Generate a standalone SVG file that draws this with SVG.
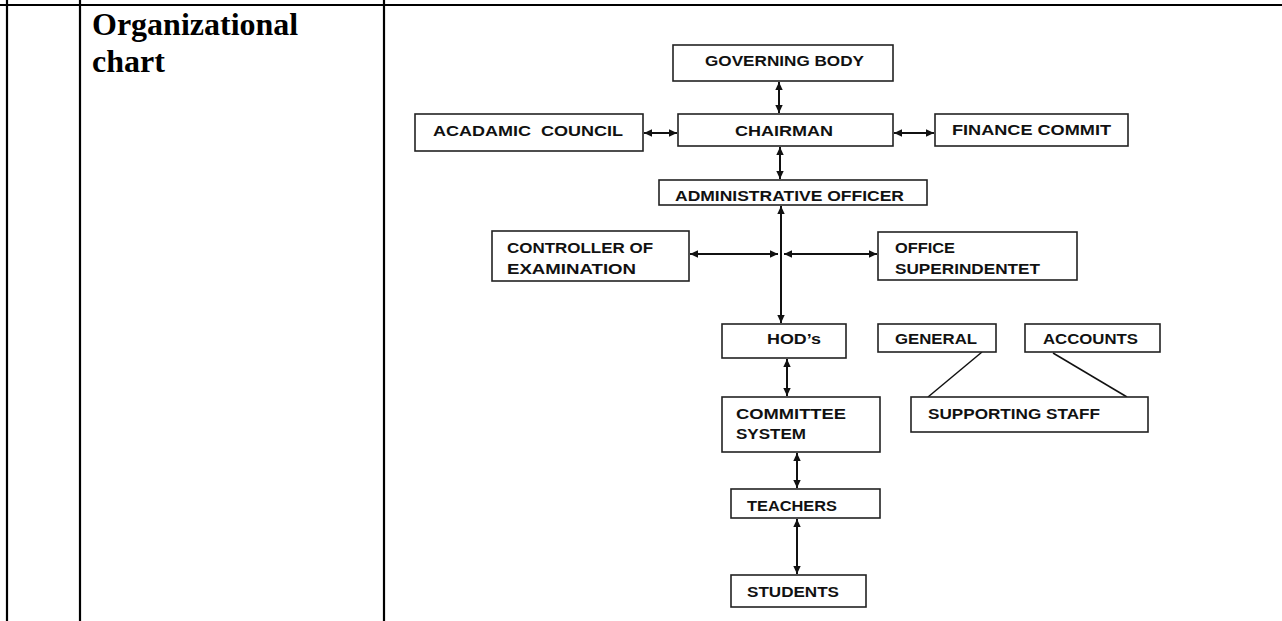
<svg xmlns="http://www.w3.org/2000/svg" width="1282" height="621" viewBox="0 0 1282 621">
<style>
.tbl{stroke:#000;stroke-width:2.2;fill:none}
.box{fill:#fff;stroke:#222;stroke-width:1.6}
.t{font-family:"Liberation Sans",Arial,sans-serif;font-weight:bold;font-size:14px;fill:#111}
.title{font-family:"Liberation Serif","Times New Roman",serif;font-weight:bold;font-size:32px;fill:#000}
.c{stroke:#111;stroke-width:2;fill:none;marker-start:url(#ah);marker-end:url(#ah)}
.l{stroke:#111;stroke-width:1.5;fill:none}
</style>
<defs>
<marker id="ah" markerUnits="userSpaceOnUse" markerWidth="9" markerHeight="9" refX="8" refY="4.5" orient="auto-start-reverse">
<path d="M0,0.8 L8,4.5 L0,8.2 Z" fill="#111"/>
</marker>
</defs>
<rect width="1282" height="621" fill="#fff"/>
<g id="table">
<line class="tbl" x1="0" y1="5" x2="1282" y2="5"/>
<line class="tbl" x1="7" y1="0" x2="7" y2="621"/>
<line class="tbl" x1="80" y1="0" x2="80" y2="621"/>
<line class="tbl" x1="384" y1="0" x2="384" y2="621"/>
<text class="title" x="92" y="35">Organizational</text>
<text class="title" x="92" y="72">chart</text>
</g>
<g id="connectors">
<line class="c" x1="779" y1="82" x2="779" y2="113"/>
<line class="c" x1="644" y1="133" x2="677" y2="133"/>
<line class="c" x1="894" y1="133" x2="934" y2="133"/>
<line class="c" x1="780" y1="147" x2="780" y2="179"/>
<line class="c" x1="781" y1="206" x2="781" y2="323"/>
<line class="c" x1="690" y1="254" x2="778" y2="254"/>
<line class="c" x1="784" y1="254" x2="877" y2="254"/>
<line class="c" x1="787" y1="359" x2="787" y2="396"/>
<line class="c" x1="797" y1="453" x2="797" y2="488"/>
<line class="c" x1="797" y1="519" x2="797" y2="574"/>
<line class="l" x1="982" y1="352" x2="928" y2="397"/>
<line class="l" x1="1053" y1="353" x2="1127" y2="397"/>
</g>
<g id="governing-body">
<rect class="box" x="673" y="45" width="220" height="36"/>
<text class="t" x="705" y="65.5" textLength="159" lengthAdjust="spacingAndGlyphs">GOVERNING BODY</text>
</g>
<g id="academic-council">
<rect class="box" x="415" y="114" width="228" height="37"/>
<text class="t" x="433" y="136" textLength="190" lengthAdjust="spacingAndGlyphs" xml:space="preserve">ACADAMIC  COUNCIL</text>
</g>
<g id="chairman">
<rect class="box" x="678" y="114" width="215" height="32"/>
<text class="t" x="735" y="136" textLength="98" lengthAdjust="spacingAndGlyphs">CHAIRMAN</text>
</g>
<g id="finance-commit">
<rect class="box" x="935" y="114" width="193" height="32"/>
<text class="t" x="952" y="135" textLength="159" lengthAdjust="spacingAndGlyphs">FINANCE COMMIT</text>
</g>
<g id="administrative-officer">
<rect class="box" x="659" y="180" width="268" height="25"/>
<text class="t" x="675" y="201" textLength="229" lengthAdjust="spacingAndGlyphs">ADMINISTRATIVE OFFICER</text>
</g>
<g id="controller">
<rect class="box" x="492" y="231" width="197" height="50"/>
<text class="t" x="507" y="253" textLength="146" lengthAdjust="spacingAndGlyphs">CONTROLLER OF</text>
<text class="t" x="507" y="274" textLength="129" lengthAdjust="spacingAndGlyphs">EXAMINATION</text>
</g>
<g id="office-superintendent">
<rect class="box" x="878" y="232" width="199" height="48"/>
<text class="t" x="895" y="253" textLength="60" lengthAdjust="spacingAndGlyphs">OFFICE</text>
<text class="t" x="895" y="274" textLength="145" lengthAdjust="spacingAndGlyphs">SUPERINDENTET</text>
</g>
<g id="hods">
<rect class="box" x="722" y="324" width="124" height="34"/>
<text class="t" x="767" y="344" textLength="54" lengthAdjust="spacingAndGlyphs">HOD’s</text>
</g>
<g id="general">
<rect class="box" x="878" y="324" width="118" height="28"/>
<text class="t" x="895" y="344" textLength="82" lengthAdjust="spacingAndGlyphs">GENERAL</text>
</g>
<g id="accounts">
<rect class="box" x="1025" y="324" width="135" height="28"/>
<text class="t" x="1043" y="344" textLength="95" lengthAdjust="spacingAndGlyphs">ACCOUNTS</text>
</g>
<g id="committee-system">
<rect class="box" x="722" y="397" width="158" height="55"/>
<text class="t" x="736" y="419" textLength="110" lengthAdjust="spacingAndGlyphs">COMMITTEE</text>
<text class="t" x="736" y="439" textLength="70" lengthAdjust="spacingAndGlyphs">SYSTEM</text>
</g>
<g id="supporting-staff">
<rect class="box" x="911" y="397" width="237" height="35"/>
<text class="t" x="928" y="419" textLength="172" lengthAdjust="spacingAndGlyphs">SUPPORTING STAFF</text>
</g>
<g id="teachers">
<rect class="box" x="731" y="489" width="149" height="29"/>
<text class="t" x="747" y="510.5" textLength="90" lengthAdjust="spacingAndGlyphs">TEACHERS</text>
</g>
<g id="students">
<rect class="box" x="731" y="575" width="135" height="32"/>
<text class="t" x="747" y="596.5" textLength="92" lengthAdjust="spacingAndGlyphs">STUDENTS</text>
</g>
</svg>
